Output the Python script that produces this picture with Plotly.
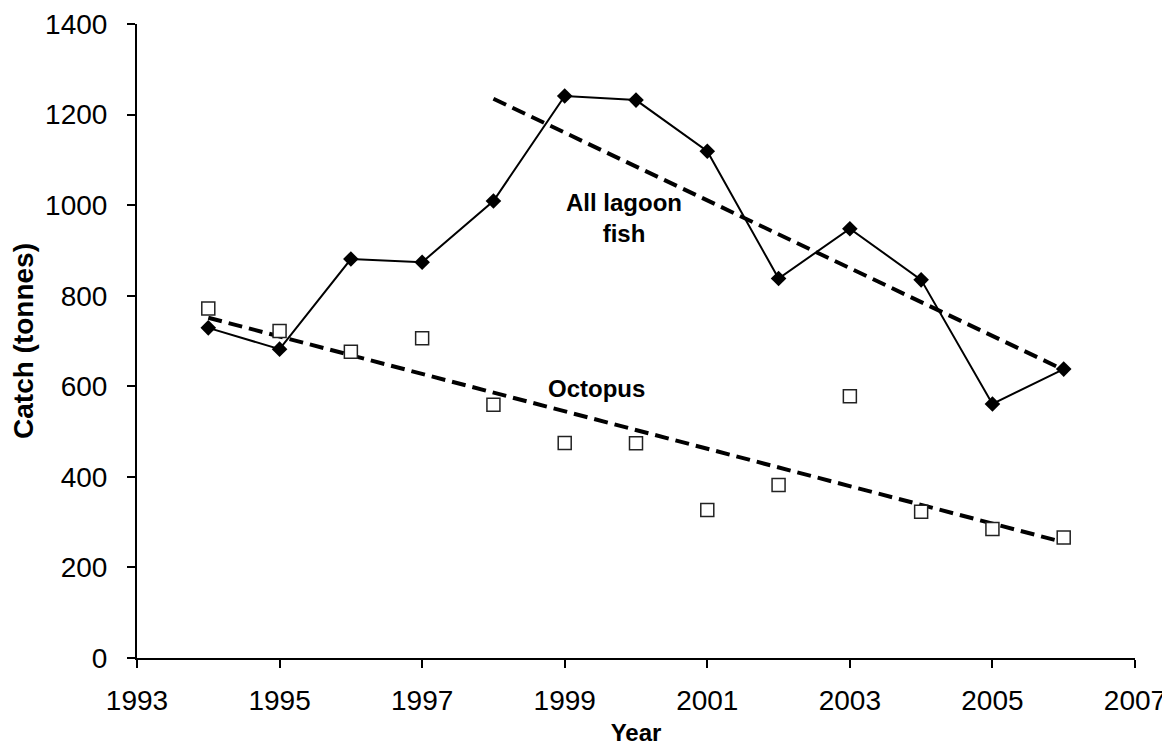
import numpy as np
import plotly.graph_objects as go

years = [1994, 1995, 1996, 1997, 1998, 1999, 2000, 2001, 2002, 2003, 2004, 2005, 2006]
lagoon_fish = [729, 682, 881, 874, 1009, 1241, 1232, 1119, 838, 948, 835, 561, 638]
octopus = [772, 722, 676, 706, 559, 475, 474, 327, 382, 578, 323, 285, 266]
fish_trend_start_year = 1998

x_ticks = [1993, 1995, 1997, 1999, 2001, 2003, 2005, 2007]
y_ticks = [0, 200, 400, 600, 800, 1000, 1200, 1400]

FONT = "Liberation Sans, Arial, sans-serif"

# linear trends (least squares) from the data
yr = np.array(years, dtype=float)
fish = np.array(lagoon_fish, dtype=float)
octo = np.array(octopus, dtype=float)
mask = yr >= fish_trend_start_year
fc = np.polyfit(yr[mask], fish[mask], 1)
oc = np.polyfit(yr, octo, 1)
fish_tx = [yr[mask][0], yr[mask][-1]]
fish_ty = list(np.polyval(fc, fish_tx))
oct_tx = [yr[0], yr[-1]]
oct_ty = list(np.polyval(oc, oct_tx))

fig = go.Figure()

fig.add_trace(go.Scatter(
    x=fish_tx, y=fish_ty, mode="lines",
    line=dict(color="black", width=4, dash="14px,7px"),
    showlegend=False, hoverinfo="skip"))
fig.add_trace(go.Scatter(
    x=oct_tx, y=oct_ty, mode="lines",
    line=dict(color="black", width=4, dash="14px,7px"),
    showlegend=False, hoverinfo="skip"))

fig.add_trace(go.Scatter(
    x=years, y=octopus, mode="markers",
    marker=dict(symbol="square", size=13, color="white",
                line=dict(color="#222222", width=1.5)),
    showlegend=False))

fig.add_trace(go.Scatter(
    x=years, y=lagoon_fish, mode="lines+markers",
    line=dict(color="black", width=2),
    marker=dict(symbol="diamond", size=12, color="black"),
    showlegend=False))

fig.add_annotation(x=1999.83, y=971, text="<b>All lagoon<br>fish</b>",
                   showarrow=False, font=dict(family=FONT, size=24, color="black"),
                   align="center")
fig.add_annotation(x=1999.45, y=595, text="<b>Octopus</b>",
                   showarrow=False, font=dict(family=FONT, size=24, color="black"))

# page body has an 8px margin; figure is sized/offset so the plot area sits where the reference's does
fig.update_layout(
    width=1162, height=739,
    margin=dict(l=129, r=35, t=16, b=89),
    paper_bgcolor="white", plot_bgcolor="white",
    font=dict(family=FONT, color="black"),
    xaxis=dict(
        range=[1993, 2007], tickvals=x_ticks, ticktext=[str(t) for t in x_ticks],
        showgrid=False, zeroline=False, showline=True, linecolor="black", linewidth=2,
        ticks="outside", ticklen=8, tickwidth=2, tickcolor="black",
        tickfont=dict(family=FONT, size=28, color="black"),
        ticklabelstandoff=8, automargin=False,
        title=dict(text="<b>Year</b>", font=dict(family=FONT, size=24, color="black"), standoff=10),
    ),
    yaxis=dict(
        range=[0, 1400], tickvals=y_ticks,
        showgrid=False, zeroline=False, showline=True, linecolor="black", linewidth=2,
        ticks="outside", ticklen=8, tickwidth=2, tickcolor="black",
        tickfont=dict(family=FONT, size=28, color="black"),
        ticklabelstandoff=14, automargin=False,
        title=dict(text="<b>Catch (tonnes)</b>", font=dict(family=FONT, size=28, color="black"), standoff=12),
    ),
)

fig.write_html("out.html")
